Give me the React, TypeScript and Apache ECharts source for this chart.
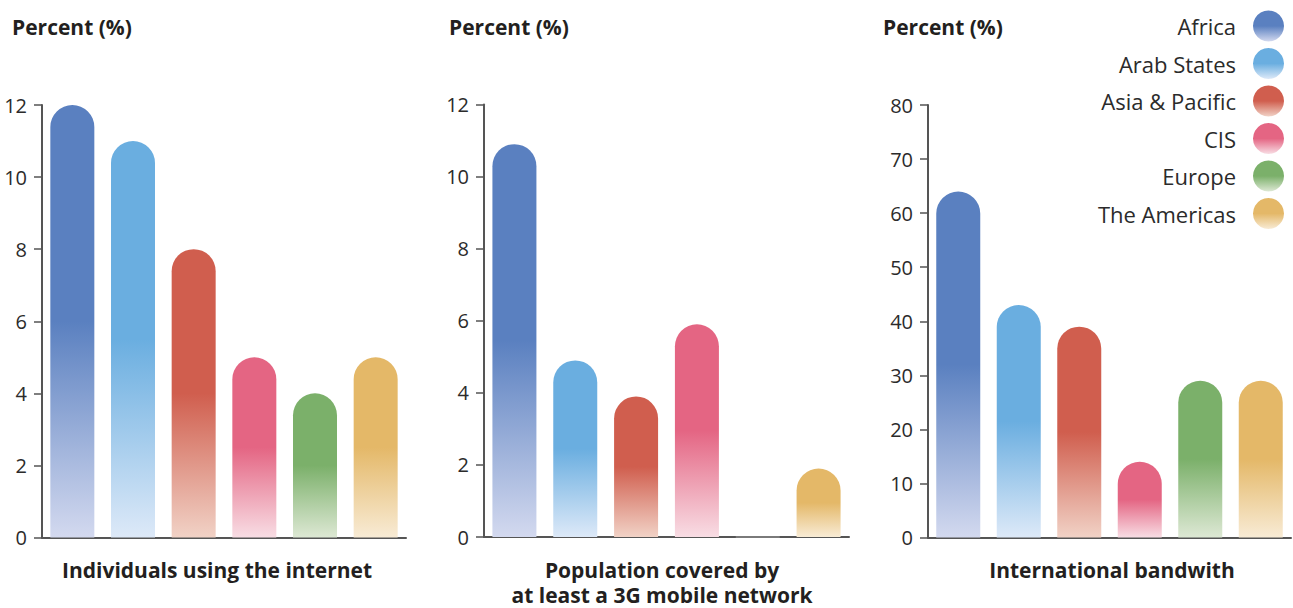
import React, { useEffect, useRef } from "react";
import * as echarts from "echarts";

const regions = ["Africa", "Arab States", "Asia & Pacific", "CIS", "Europe", "The Americas"];
const internetUsers = [12, 11, 8, 5, 4, 5];
const coverage3G = [10.9, 4.9, 3.9, 5.9, 0, 1.9];
const bandwidth = [64, 43, 39, 14, 29, 29];
const solidColors = ["#5a80c0", "#6aaee0", "#d05e4e", "#e46583", "#7bb06a", "#e4b868"];
const lightColors = ["#d3d9ef", "#dde9f8", "#f1d2c6", "#f8dde4", "#dde8d4", "#f8ebd5"];
const panelTitles = [
  ["Individuals using the internet"],
  ["Population covered by", "at least a 3G mobile network"],
  ["International bandwith"],
];
const yMax = [12, 12, 80];
const yInterval = [2, 2, 10];

const FONT = "'Open Sans', 'Noto Sans', sans-serif";

export default function App() {
  const ref = useRef<HTMLDivElement>(null);
  useEffect(() => {
    document.body.style.margin = "0";
    if (!ref.current) return;
    const chart = echarts.init(ref.current, undefined, { renderer: "svg" });
    const panels = [internetUsers, coverage3G, bandwidth];
    const grids = [
      { left: 42, top: 105, width: 364, height: 432.5 },
      { left: 484, top: 104.5, width: 365, height: 432.5 },
      { left: 928, top: 105, width: 363, height: 432.5 },
    ];
    const grad = (i: number) =>
      new echarts.graphic.LinearGradient(0, 0, 0, 1, [
        { offset: 0, color: solidColors[i] },
        { offset: 0.5, color: solidColors[i] },
        { offset: 1, color: lightColors[i] },
      ]);
    const series: any[] = [];
    panels.forEach((vals, p) => {
      regions.forEach((r, i) => {
        series.push({
          type: "bar",
          name: r,
          xAxisIndex: p,
          yAxisIndex: p,
          stack: "s" + p,
          barWidth: 44,
          data: regions.map((_, j) => {
            if (j !== i) return "-";
            if (vals[i] === 0) {
              return {
                value: 0,
                itemStyle: { borderColor: "#7a7a7a", borderWidth: 2, borderRadius: 0 },
              };
            }
            return vals[i];
          }),
          itemStyle: { color: grad(i), borderRadius: [22, 22, 0, 0] },
        });
      });
    });
    const titleCenters = [217, 662, 1112];
    const titleTexts: any[] = [];
    panelTitles.forEach((lines, p) => {
      lines.forEach((line, k) => {
        titleTexts.push({
          type: "text",
          x: titleCenters[p],
          y: 570 + k * 25,
          style: {
            text: line,
            fontSize: 21,
            fontWeight: "bold",
            fontFamily: FONT,
            fill: "#231f20",
            textAlign: "center",
            textVerticalAlign: "middle",
          },
        });
      });
    });
    chart.setOption({
      animation: false,
      grid: grids.map((g) => ({ ...g, containLabel: false })),
      xAxis: grids.map((_, p) => ({
        type: "category",
        gridIndex: p,
        data: regions,
        axisLabel: { show: false },
        axisTick: { show: false },
        axisLine: { show: true, lineStyle: { color: "#555", width: 2 } },
      })),
      yAxis: grids.map((_, p) => ({
        type: "value",
        gridIndex: p,
        min: 0,
        max: yMax[p],
        interval: yInterval[p],
        splitLine: { show: false },
        axisLine: { show: true, lineStyle: { color: "#555", width: 2 } },
        axisTick: { show: true, length: 8, lineStyle: { color: "#555", width: 1.5 } },
        axisLabel: {
          fontSize: 20,
          color: "#2b2b2b",
          fontFamily: FONT,
          margin: 15,
          padding: [0, 0, 9, 0],
        },
      })),
      legend: {
        data: regions,
        orient: "vertical",
        align: "right",
        right: 9,
        top: 10.5,
        padding: 0,
        icon: "circle",
        itemWidth: 31,
        itemHeight: 31,
        itemGap: 6.5,
        selectedMode: false,
        textStyle: { fontSize: 22, color: "#2b2b2b", fontFamily: FONT, padding: [0, 12, 2, 0] },
      },
      graphic: [
        ...[12, 449, 883].map((x) => ({
          type: "text",
          x,
          y: 27,
          style: {
            text: "Percent (%)",
            fontSize: 21,
            fontWeight: "bold",
            fontFamily: FONT,
            fill: "#231f20",
            textVerticalAlign: "middle",
          },
        })),
        ...titleTexts,
      ],
      series,
    });
    return () => chart.dispose();
  }, []);
  return <div ref={ref} style={{ width: 1293, height: 608 }} />;
}
